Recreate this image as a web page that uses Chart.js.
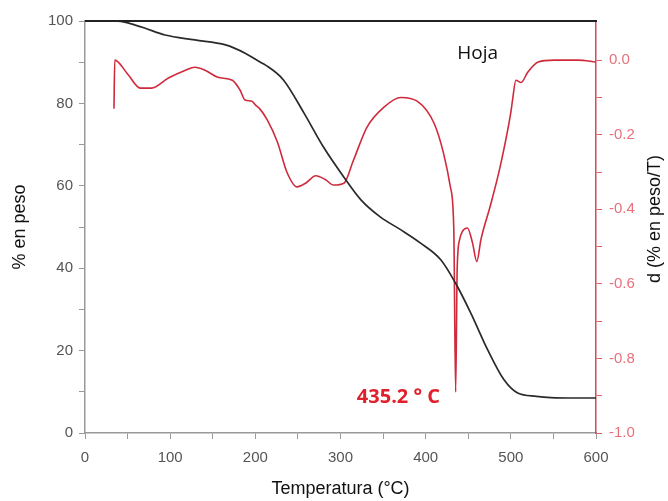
<!DOCTYPE html>
<html><head><meta charset="utf-8">
<script src="https://cdn.jsdelivr.net/npm/chart.js@4/dist/chart.umd.min.js"></script>
<style>html,body{margin:0;padding:0;background:#fff}</style>
</head><body>
<canvas id="c" width="668" height="501"></canvas>
<script>
// TG curve (% en peso)
const tgTemp   = [35, 45, 59, 70, 94, 129, 165, 188, 206, 212, 233, 257, 280, 304, 324, 347, 371, 394, 418, 435, 453, 473, 492, 508, 530, 547, 575, 600];
const tgWeight = [100, 99.8, 99, 98.3, 96.6, 95.4, 94.2, 92.2, 90, 89.3, 85.7, 77.7, 69.4, 62.1, 56.6, 52.4, 49.3, 46.1, 42, 36.4, 29.1, 20.1, 12.9, 9.7, 8.9, 8.6, 8.5, 8.5];
// DTG curve (d(% en peso)/T)
const dtgTemp  = [34, 35, 50, 65, 78, 98, 118, 129, 141, 156, 173, 182, 188, 196, 200, 205, 214, 226, 237, 249, 259, 271, 282, 292, 304, 315, 331, 351, 371, 390, 410, 421, 429, 433, 435.2, 437, 440, 443, 449, 455, 460, 465, 476, 488, 500, 502, 506, 512, 520, 532, 551, 579, 600];
const dtgDeriv = [-0.13, 0.0, -0.037, -0.075, -0.075, -0.048, -0.027, -0.019, -0.027, -0.046, -0.054, -0.08, -0.107, -0.11, -0.12, -0.13, -0.16, -0.22, -0.30, -0.34, -0.33, -0.31, -0.32, -0.335, -0.33, -0.27, -0.18, -0.126, -0.10, -0.11, -0.17, -0.25, -0.34, -0.45, -0.89, -0.56, -0.48, -0.46, -0.45, -0.49, -0.54, -0.48, -0.39, -0.28, -0.14, -0.107, -0.054, -0.06, -0.032, -0.005, 0.0, 0.0, -0.005];

const xTickLabels = [0, 100, 200, 300, 400, 500, 600];
const leftTickLabels = [0, 20, 40, 60, 80, 100];
const rightTickLabels = [-1.0, -0.8, -0.6, -0.4, -0.2, 0.0];

const sampleLabel = 'Hoja';
const sampleLabelAt = [461, 92];
const peakLabel = '435.2 ° C';
const peakLabelAt = [368, 8.7];

const xTitle = 'Temperatura (°C)';
const leftTitle = '% en peso';
const rightTitle = 'd (% en peso/T)';

const tgPoints = tgTemp.map((t, i) => ({x: t, y: tgWeight[i]}));
const dtgPoints = dtgTemp.map((t, i) => ({x: t, y: dtgDeriv[i]}));

const overlay = {
  id: 'overlay',
  afterDraw(chart) {
    const {ctx, chartArea: a, scales: {x, y}} = chart;
    ctx.save();
    ctx.strokeStyle = '#222';
    ctx.lineWidth = 2;
    ctx.beginPath(); ctx.moveTo(a.left, a.top); ctx.lineTo(a.right + 1, a.top); ctx.stroke();
    ctx.textAlign = 'center';
    ctx.textBaseline = 'middle';
    ctx.fillStyle = '#111';
    ctx.font = '19px "Open Sans"';
    ctx.fillText(sampleLabel, x.getPixelForValue(sampleLabelAt[0]), y.getPixelForValue(sampleLabelAt[1]));
    ctx.fillStyle = '#e0202c';
    ctx.font = 'bold 20px "Open Sans"';
    ctx.fillText(peakLabel, x.getPixelForValue(peakLabelAt[0]), y.getPixelForValue(peakLabelAt[1]));
    // right axis title, reading bottom to top
    ctx.fillStyle = '#111';
    ctx.font = '18px "Liberation Sans", Arial';
    ctx.translate(chart.width - 13, (a.top + a.bottom) / 2 - 8);
    ctx.rotate(-Math.PI / 2);
    ctx.fillText(rightTitle, 0, 0);
    ctx.restore();
  }
};

const tickFont = {family: '"Liberation Sans", Arial', size: 15};

new Chart(document.getElementById('c'), {
  type: 'line',
  data: {
    datasets: [
      {label: 'TG', data: tgPoints, yAxisID: 'y', borderColor: '#2a2a2a', borderWidth: 1.7, pointRadius: 0, tension: 0.4, cubicInterpolationMode: 'monotone', fill: false},
      {label: 'DTG', data: dtgPoints, yAxisID: 'y1', borderColor: '#cf2a3c', borderWidth: 1.6, pointRadius: 0, cubicInterpolationMode: 'monotone', fill: false}
    ]
  },
  options: {
    responsive: false,
    animation: false,
    devicePixelRatio: 1,
    layout: {padding: {top: 21, left: 0, right: 0, bottom: 0}},
    plugins: {legend: {display: false}, tooltip: {enabled: false}},
    scales: {
      x: {
        type: 'linear', min: 0, max: 600,
        afterBuildTicks: s => { const t = []; for (let v = 0; v <= 600; v += 50) t.push({value: v}); s.ticks = t; },
        afterFit: s => { s.height = 68; },
        ticks: {font: tickFont, color: '#555', padding: 10, maxRotation: 0, autoSkip: false,
          callback: v => xTickLabels.includes(v) ? String(v) : ''},
        grid: {display: true, drawOnChartArea: false, drawTicks: true, tickLength: 6, color: '#999'},
        border: {display: true, color: '#999', width: 1.5},
        title: {display: true, text: xTitle, font: {family: '"Liberation Sans", Arial', size: 18}, color: '#111', padding: {top: 0, bottom: 1}}
      },
      y: {
        type: 'linear', position: 'left', min: 0, max: 100,
        afterBuildTicks: s => { const t = []; for (let v = 0; v <= 100; v += 10) t.push({value: v}); s.ticks = t; },
        afterFit: s => { s.width = 85; },
        ticks: {font: tickFont, color: '#555', padding: 6, autoSkip: false,
          callback: v => leftTickLabels.includes(v) ? String(v) : ''},
        grid: {display: true, drawOnChartArea: false, drawTicks: true, tickLength: 6, color: '#999'},
        border: {display: true, color: '#999', width: 1.5},
        title: {display: true, text: leftTitle, font: {family: '"Liberation Sans", Arial', size: 18}, color: '#111', padding: {top: 9, bottom: 0}}
      },
      y1: {
        type: 'linear', position: 'right', min: -1.0, max: 0.105,
        afterBuildTicks: s => { const t = []; for (let k = -10; k <= 0; k++) t.push({value: k / 10}); s.ticks = t; },
        afterFit: s => { s.width = 72; },
        ticks: {font: tickFont, color: '#e8707c', padding: 7, autoSkip: false,
          callback: v => { const k = Math.round(v * 10); return (k % 2 === 0 && rightTickLabels.includes(k / 10)) ? (k / 10).toFixed(1) : ''; }},
        grid: {display: true, drawOnChartArea: false, drawTicks: true, tickLength: 6, color: '#e06070'},
        border: {display: true, color: '#d84858', width: 1.5},
        title: {display: false}
      }
    }
  },
  plugins: [overlay]
});
</script>
</body></html>
